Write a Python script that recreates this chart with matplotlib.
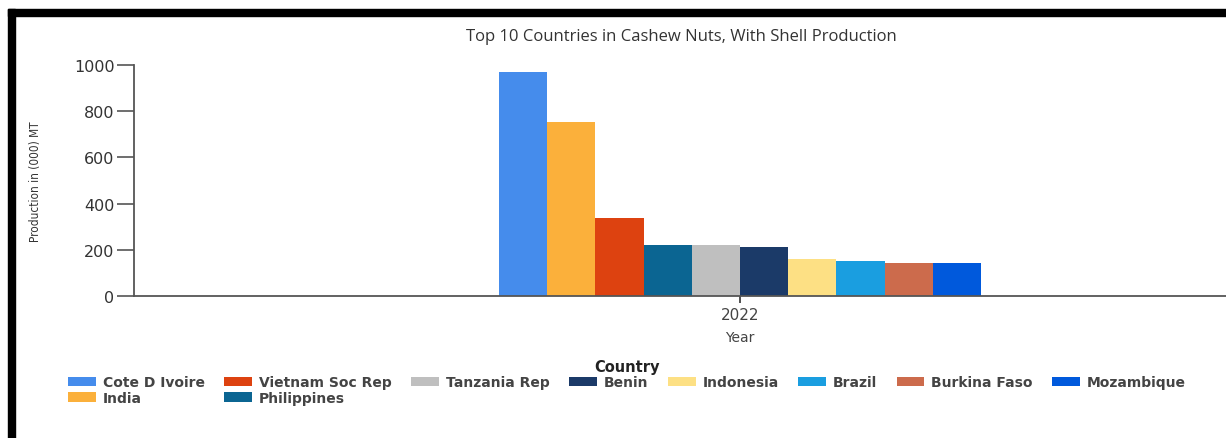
import matplotlib.pyplot as plt
from matplotlib.patches import Rectangle

countries = ["Cote D Ivoire", "India", "Vietnam Soc Rep", "Philippines", "Tanzania Rep",
             "Benin", "Indonesia", "Brazil", "Burkina Faso", "Mozambique"]
production = [969, 752, 339, 219, 219, 212, 161, 151, 144, 144]
colors = ["#458CEC", "#FBB03B", "#DD4210", "#0B6592", "#BFBFBF",
          "#1B3A68", "#FDE084", "#1A9EE0", "#CC6B4C", "#0059DC"]
year = "2022"

W, H = 1226, 439
fig = plt.figure(figsize=(W / 100, H / 100), dpi=100)

# black frame from the screenshot (top and left edges)
fig.patches.append(Rectangle((8 / W, 0), 7 / W, 1 - 10 / H, transform=fig.transFigure,
                             color="black", zorder=0))
fig.patches.append(Rectangle((8 / W, 1 - 17 / H), 1, 7 / H, transform=fig.transFigure,
                             color="black", zorder=0))

# axes: left spine at x=134, category centred at x=740 (plot runs past the right edge)
left, right = 134, 1346
bottom, top = 297, 66
ax = fig.add_axes([left / W, 1 - bottom / H, (right - left) / W, (bottom - top) / H])

bw = 0.0398
n = len(countries)
for i, (c, v, col) in enumerate(zip(countries, production, colors)):
    ax.bar((i - (n - 1) / 2) * bw, v, width=bw, color=col, label=c, linewidth=0)

ax.set_xlim(-0.5, 0.5)
ax.set_ylim(0, 1000)
ax.set_xticks([0])
ax.set_xticklabels([year])
ax.set_yticks([0, 200, 400, 600, 800, 1000])
for s in ["top", "right"]:
    ax.spines[s].set_visible(False)
for s in ["left", "bottom"]:
    ax.spines[s].set_color("#555555")
    ax.spines[s].set_linewidth(1.3)
ax.tick_params(axis="y", length=12, width=1.2, color="#555555", labelsize=11.5,
               labelcolor="#333333", pad=2)
ax.tick_params(axis="x", length=5, width=1.2, color="#333333", labelsize=11,
               labelcolor="#444444", pad=3)
ax.set_xlabel("Year", fontsize=10, color="#444444", labelpad=6)

fig.text(35 / W, 1 - 182 / H, "Production in (000) MT", rotation=90, ha="center", va="center",
         fontsize=8.5, fontstretch="condensed", color="#333333")
fig.text(681 / W, 1 - 37 / H, "Top 10 Countries in Cashew Nuts, With Shell Production",
         ha="center", va="center", fontsize=12, family="Open Sans", color="#333333")

leg = fig.legend(loc="center", bbox_to_anchor=(627 / W, 1 - 383 / H), ncol=8, frameon=False,
                 title="Country", prop={"weight": "bold", "size": 10},
                 handlelength=2.0, handleheight=0.65, handletextpad=0.5,
                 columnspacing=1.4, labelspacing=0.1, borderpad=0)
leg.get_title().set_fontweight("bold")
leg.get_title().set_fontsize(10.5)
leg.get_title().set_color("#222222")
for t in leg.get_texts():
    t.set_color("#444444")

fig.savefig("out.png", dpi=100)
